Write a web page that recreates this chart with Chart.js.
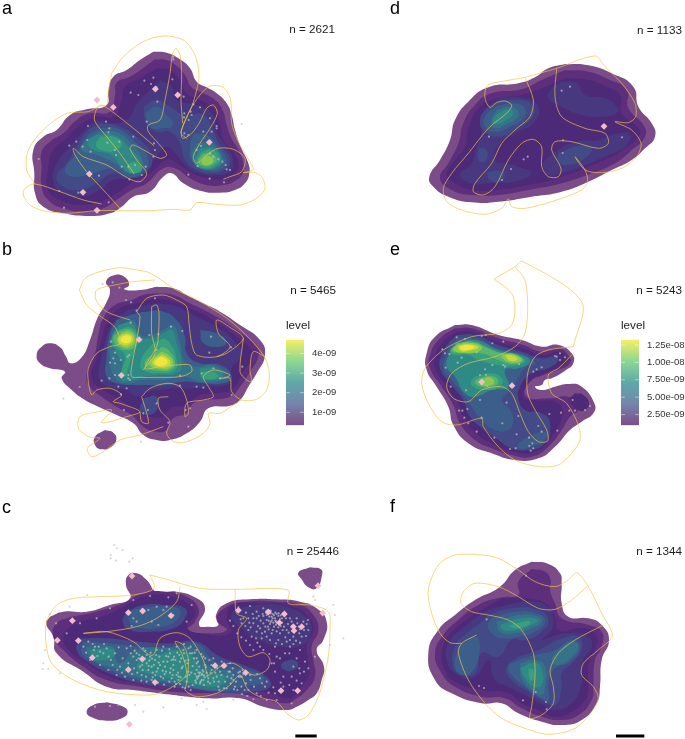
<!DOCTYPE html>
<html>
<head>
<meta charset="utf-8">
<script src="https://cdn.jsdelivr.net/npm/chart.js@4"></script>
<style>
  body { margin:0; background:#fff; width:685px; height:739px; position:relative; overflow:hidden;
         font-family:"Liberation Sans",Arial,sans-serif; color:#1a1a1a; }
  canvas { position:absolute; }
  .mapa { filter:blur(0.5px); }
  .txt { position:absolute; white-space:nowrap; line-height:1; }
  .letra { font-size:18px; color:#000; }
  .n { font-size:11.7px; }
</style>
</head>
<body>
<script>
// colores de cada nivel de densidad (de afuera hacia adentro)
const bandColors = ["#7b4c87","#5c2e7c","#4d2a78","#47387f","#424a87","#3c5e8b","#357388","#2f8a86","#38a07c","#5ab46c","#8ec850","#c6da40","#f2e63a"];

// Panel a: [nivel, contorno]
const aBands = [
 [0,[460,155,500,158,540,178,570,205,590,245,620,262,650,280,680,310,695,345,705,390,722,440,745,490,748,520,735,550,705,570,660,578,600,572,550,550,515,520,490,530,450,575,400,590,365,620,330,640,270,648,190,640,130,620,105,580,103,520,100,450,130,410,170,390,210,345,260,328,320,315,325,270,340,230,380,210,420,180]],
 [1,[465,178,500,180,530,198,555,225,575,262,610,280,645,300,668,330,680,375,692,410,715,450,730,490,730,515,710,540,670,555,620,555,570,535,525,505,490,505,440,550,395,570,350,600,310,625,260,635,190,625,145,600,125,560,125,500,125,455,150,425,190,400,230,360,270,340,330,335,345,285,350,248,390,230,435,200]],
 [2,[470,205,510,210,540,240,560,280,600,300,640,325,660,370,670,420,700,455,715,490,705,520,670,538,620,535,570,515,530,490,500,480,450,520,400,545,350,580,300,605,240,615,180,600,145,570,145,500,160,450,200,415,240,375,290,350,340,350,365,300,375,260,420,235]],
 [3,[480,240,515,260,530,300,590,315,640,345,650,395,680,440,700,485,690,515,650,525,600,520,560,500,530,465,500,440,470,470,440,510,390,535,340,540,300,570,240,590,190,580,160,545,170,490,210,440,250,395,290,365,350,370,390,350,410,310,440,280]],
 [4,[300,370,360,380,420,420,455,470,440,515,390,535,340,520,290,550,240,570,190,560,170,530,200,490,230,440,260,395]],
 [4,[430,320,470,300,510,320,555,345,610,345,640,395,660,435,690,475,680,505,640,520,590,510,555,480,540,430,510,395,470,395,440,370]],
 [5,[300,385,350,385,405,425,445,480,425,520,385,530,340,505,280,520,220,530,195,510,230,460,260,410]],
 [5,[435,340,470,320,500,345,520,375,490,385,450,380]],
 [5,[580,400,620,405,650,435,680,480,660,510,620,510,580,490,570,440]],
 [6,[300,395,345,395,390,425,430,485,420,515,385,520,345,490,290,465,245,450,255,425]],
 [6,[590,430,630,430,665,465,665,495,630,510,595,500,575,470]],
 [7,[290,405,340,405,385,440,425,500,395,520,365,500,335,465,280,450,265,425]],
 [7,[600,445,640,445,665,475,650,500,615,508,585,490]],
 [8,[300,410,340,410,365,430,350,450,310,452,288,435]],
 [8,[385,490,410,487,425,510,400,520,385,510]],
 [8,[605,455,635,450,660,475,645,497,615,505,590,488]],
 [9,[608,462,632,460,650,478,635,495,610,498,595,485]],
 [10,[612,470,628,468,640,482,625,495,605,490]]
];
const aOutlines = [
 [305,612,250,600,180,575,105,552,75,565,70,585,90,615,130,632,200,640,290,632,370,632,450,632,520,628,570,630,590,608,640,612,720,615,770,595,795,565,785,530,760,517,730,518,760,508,740,470,715,425,695,370,692,300,670,262,630,258,600,285,570,330,545,390,548,415,575,400,600,365,620,325,640,315,652,340,630,385,600,430,580,470,590,490,620,465,655,445,700,448,735,475,725,515,690,530,670,538],
 [548,370,543,300,545,220,540,165,528,145,518,160,510,220,495,300,480,360,445,375,445,395,475,430,500,465,480,475,440,455,400,435,390,445,410,480,440,520,420,545,385,535,320,495,250,470,220,445,225,465,260,515,310,570,360,625],
 [335,220,370,170,430,125,490,108,550,120,585,165,597,225,590,270,575,320,550,375,543,400,560,415],
 [335,220,325,275,320,315,300,318,265,335,200,340,130,390,85,450,80,510,105,552],
 [462,437,400,385,330,330,300,315,285,340,285,365,320,410,360,460,403,522]
];
const aCells = [433,242,460,233,453,252,517,238,392,278,415,285,470,262,551,290,472,305,440,365,580,313,600,322,572,335,553,340,552,352,575,345,630,355,650,378,650,385,635,395,610,395,566,360,553,400,565,405,725,372,116,477,264,378,318,365,328,385,325,397,262,420,229,425,248,440,208,437,272,455,322,428,358,425,400,410,462,430,465,450,345,450,348,465,365,500,385,500,405,495,437,500,425,525,388,538,297,527,235,578,326,607,192,623,178,573,603,438,590,450,630,460,640,470,655,478,667,485,677,495,680,508,593,498,565,524,629,536,672,547,690,510,520,170,520,178,460,470];
const aSpots = [291,300,340,322,466,267,533,285,628,427,268,522,249,577,291,631];

// Panel b
const bBands = [
 [0,[470,140,520,145,560,165,610,190,660,215,720,255,780,300,795,345,770,400,745,440,720,480,690,497,625,505,600,545,560,580,510,600,470,600,430,585,400,550,350,525,290,498,255,480,215,450,185,415,195,395,150,385,120,370,110,345,125,320,150,310,180,322,197,348,212,370,245,352,270,300,292,235,318,190,330,150,318,125,345,105,375,112,387,135,372,148,420,150]],
 [0,[315,570,340,578,349,598,335,620,305,628,285,615,285,590]],
 [1,[470,160,520,165,570,190,640,225,710,270,770,320,775,350,750,395,720,440,690,470,620,480,580,490,560,520,520,535,500,570,470,575,430,560,395,525,350,500,305,470,270,440,260,400,285,340,295,285,310,235,345,195,395,180,430,165]],
 [2,[470,175,520,185,570,205,640,240,710,290,755,330,755,355,730,395,700,445,650,460,600,465,560,495,510,505,490,530,450,530,410,515,360,480,310,450,275,415,290,355,305,300,320,250,360,205,410,190]],
 [3,[470,190,530,200,590,230,650,260,700,300,725,345,695,385,690,430,620,440,570,445,530,445,480,450,440,455,410,470,380,450,340,445,300,420,300,370,315,310,335,255,370,220,420,200]],
 [4,[430,475,470,470,470,510,440,525,420,510]],
 [5,[350,240,390,225,440,215,490,215,530,240,555,290,560,340,600,370,660,375,695,410,670,430,610,430,550,425,500,435,440,435,400,435,350,430,320,410,320,350,330,280]],
 [5,[600,270,650,280,680,305,660,320,610,310]],
 [6,[370,250,400,240,420,280,435,290,490,270,520,255,540,310,555,365,590,380,640,375,680,410,650,425,605,425,550,410,490,420,430,420,380,430,345,415,330,355,335,300]],
 [7,[355,255,395,250,420,290,450,295,490,280,515,270,530,310,545,375,530,400,480,405,430,410,395,420,365,420,375,385,350,340,335,295]],
 [7,[600,385,645,385,670,410,640,420,605,415]],
 [8,[358,268,392,262,415,295,410,320,395,350,385,385,375,410,365,395,375,345,345,320,335,295]],
 [8,[490,295,510,310,530,360,525,390,480,400,440,395,420,375,450,320]],
 [8,[610,395,640,395,655,410,625,418,605,408]],
 [9,[360,272,390,268,410,295,405,320,380,330,355,320,340,295]],
 [9,[485,320,505,330,525,365,515,388,480,393,445,385,435,365,465,340]],
 [10,[365,278,390,275,405,297,395,318,370,322,350,300]],
 [10,[485,335,505,345,520,367,510,385,480,387,452,378,450,362]],
 [11,[368,283,388,283,400,298,388,313,368,315,355,298]],
 [11,[485,345,500,352,512,368,502,380,480,382,458,372,462,358]],
 [12,[372,287,388,288,393,298,385,308,370,308,362,298]],
 [12,[483,350,495,355,503,367,495,376,478,378,465,368,470,357]]
];
const bOutlines = [
 [238,150,255,115,300,95,360,83,410,90,440,95,470,110,520,145,610,190,700,250,790,345,808,400,800,450,770,478,725,480,695,455,690,415,660,415],
 [238,150,260,195,300,228,345,262,360,310,330,320,290,340,265,385,265,425,275,465,290,450,330,445,365,465,340,485,360,490,420,515,380,530,305,548,335,510,295,515,240,530,235,565,270,592,300,595,262,625,275,650,310,635,360,600,420,585,490,560],
 [465,120,400,125,345,135,290,150,288,180,320,215,390,240],
 [410,215,440,175,490,165,530,180,560,200,567,250,575,310,590,345,650,350,690,320,655,280,650,240,690,262,730,295,680,340,650,350],
 [455,200,470,195,477,220,475,290,470,320,435,385,480,380,530,375,570,375,575,395,540,410,470,412,420,412,395,410,395,380,410,300,420,230,410,215],
 [455,200,455,280,465,340,430,390],
 [425,470,450,445,500,430,540,440,560,480,565,520,555,530,560,490,610,480,640,470,625,440,610,410,640,390,690,405,670,415],
 [425,470,440,520,445,550,425,545,420,515],
 [505,470,475,475,480,510,510,545,500,580,520,605,560,605,610,580,630,550,625,520,660,520,700,495,725,480],
 [795,350,760,335,750,390,755,425,740,420,720,395,730,295]
];
const bCells = [338,127,358,143,378,180,393,187,465,175,410,212,392,248,333,305,345,338,340,355,330,368,345,370,362,360,383,350,388,345,448,285,475,283,513,260,547,273,633,290,693,322,628,338,470,330,660,415,640,385,605,400,727,380,540,407,540,437,590,440,610,443,695,465,385,405,345,405,305,422,328,415,355,440,380,445,363,463,372,510,430,520,444,510,470,490,505,548,565,560,557,510,570,505,423,605,239,441,190,476,308,132,385,415,390,420];
const bSpots = [417,299,364,406];

// Panel c
const cBands = [
 [0,[150,380,190,365,260,365,330,345,390,325,378,285,385,255,410,250,440,270,470,305,530,305,590,325,615,355,597,405,625,410,655,405,648,375,680,340,750,328,830,328,900,335,950,355,980,395,970,450,950,480,972,530,965,570,950,610,925,630,890,650,860,660,790,650,720,625,620,625,520,615,400,600,320,590,250,545,170,490,160,440,138,400]],
 [0,[320,637,365,648,383,665,365,685,320,692,275,682,260,665,280,645]],
 [0,[930,232,963,238,965,260,950,295,925,292,905,268,895,248]],
 [1,[215,380,290,365,370,340,430,310,500,305,560,320,595,355,585,395,560,420,610,430,680,420,650,390,680,350,740,335,830,335,900,345,940,375,955,420,935,470,940,510,945,560,920,600,890,625,860,640,780,625,710,610,620,610,520,605,420,590,320,570,250,530,190,480,160,440,170,400]],
 [2,[240,395,320,375,380,345,440,318,510,318,570,345,585,375,560,410,600,430,690,430,680,380,700,345,780,340,880,350,930,385,940,420,920,470,925,520,925,560,895,600,870,625,810,610,720,595,620,600,530,590,420,580,330,560,260,520,205,480,190,440,205,415]],
 [4,[240,445,320,445,420,455,510,460,590,455,660,500,730,525,800,560,810,590,760,605,690,610,600,600,500,590,420,580,340,555,270,520,230,480]],
 [4,[380,365,430,345,500,345,555,355,555,385,520,415,450,425,390,420,368,395]],
 [3,[700,360,770,345,860,350,920,385,935,420,915,460,850,470,790,455,730,420,695,385]],
 [4,[850,515,880,510,895,525,875,542,850,538,843,525]],
 [5,[250,455,330,460,420,470,510,470,590,460,640,510,720,535,785,555,790,575,730,590,660,605,580,595,500,580,420,570,340,545,280,515,245,490]],
 [5,[395,360,440,352,510,350,540,360,530,390,490,410,430,415,390,400]],
 [6,[258,470,340,470,345,495,360,520,410,480,520,475,590,480,630,530,700,550,680,590,640,600,570,590,500,575,420,565,345,535,285,515,265,495]],
 [7,[420,510,490,490,530,480,580,500,610,545,670,555,670,580,630,590,570,580,510,565,440,550,410,535]],
 [7,[270,480,340,478,340,500,310,510,280,505]]
];
const cOutlines = [
 [450,255,462,295,400,315,300,320,220,325,170,345,140,395,138,460,155,520,220,570,320,605,450,615,500,600,545,570,560,550,545,490,525,455,550,465,565,510,560,580,555,600,590,620,650,610,690,585,720,555,745,600,790,625,830,635,860,670,895,690,925,675,955,620,970,570,985,500,990,420,985,365,930,345,865,340,865,300,705,298,600,295,500,268,450,255],
 [250,430,320,425,400,455,440,490,460,495,480,445,530,428,570,445,610,510,625,555,660,530,700,520,760,555,800,540,810,510,790,488,745,500,720,470,715,420,740,385,710,370,705,298],
 [250,430,320,425,410,410,470,385,530,335,540,290]
];
const cCells = [343,165,350,175,368,180,332,195,332,205,348,212,398,205,388,215,262,315,208,350,150,372,168,400,130,520,128,537,145,537,135,480,200,430,240,400,290,385,330,355,400,330,450,318,505,322,530,310,575,345,560,395,470,350,445,360,490,360,400,385,410,395,455,395,475,405,520,375,500,350,395,408,
 250,470,265,455,285,470,300,485,320,475,345,490,380,475,410,490,430,475,450,500,470,480,490,470,510,490,530,470,550,480,570,490,590,480,610,500,640,505,665,515,690,520,410,510,440,520,465,510,490,515,515,510,540,515,565,510,590,520,615,525,635,540,660,545,690,545,720,545,750,555,780,565,800,575,
 270,510,300,525,325,540,350,555,375,560,400,570,425,555,445,540,470,545,495,530,520,540,545,535,565,545,590,540,605,555,625,565,650,560,675,575,700,570,725,560,795,590,420,530,455,570,490,565,515,565,535,570,560,575,590,560,610,570,630,580,655,590,680,595,705,590,745,600,770,610,
 600,548,612,556,595,560,620,548,605,570,585,552,640,565,700,555,715,548,730,552,720,560,530,555,520,525,505,500,480,525,455,530,435,505,400,500,385,520,360,530,
 715,352,750,348,770,365,790,355,745,385,760,400,725,400,800,375,815,380,825,385,835,378,815,392,828,395,840,388,810,402,822,410,835,412,800,390,790,400,780,415,770,425,795,425,815,430,840,430,860,420,875,395,890,385,910,395,925,420,905,440,880,440,860,455,835,450,810,450,785,445,755,440,745,420,850,370,870,385,
 830,500,855,490,890,505,915,515,925,535,900,550,875,560,850,560,825,545,815,520,900,480,870,470,825,470,760,480,780,470,905,580,880,600,850,590,825,610,800,630,830,630,875,640,955,605,945,500,945,330,940,320,1000,345,1005,375,1030,445,990,465,
 330,648,355,645,285,650,405,645,430,665,490,652,590,645,620,657,545,625,610,635,700,630,180,550,
 258,488,278,462,292,498,312,462,333,510,356,472,368,505,392,490,402,535,418,495,428,540,438,560,452,488,462,525,478,500,482,560,498,545,508,478,522,500,528,582,538,495,548,530,552,462,558,560,572,470,578,528,582,505,586,572,598,530,604,492,612,585,618,532,628,510,632,548,642,575,652,535,658,600,668,530,682,560,692,580,698,535,708,575,712,600,728,540,738,580,752,570,762,590,772,552,786,580,
 812,370,818,372,822,376,808,380,830,372,826,392,832,398,818,385,806,392,798,368,842,376,846,398,852,410,858,385,864,402,842,408,806,418,796,410,782,392,776,378,758,372,738,368,730,385,752,412,768,445,800,440,828,460,846,462,866,428,882,420,896,410,912,420,920,402,898,430,880,462,900,458,
 440,495,448,512,458,548,468,495,474,535,486,482,494,552,502,515,512,535,518,555,526,510,534,548,544,505,552,490,562,520,568,555,576,490,590,505,596,548,602,575,608,540,616,505,624,575,634,525,646,548,656,575,664,555,672,595,686,545,694,565,702,598,716,560,724,590,734,600,
 606,552,598,556,592,566,614,562,622,558,610,545,588,578,600,580,578,585,566,590,548,592,536,560,524,575,
 392,468,404,482,416,505,426,525,436,482,446,528,456,506,466,556,476,518,488,542,498,498,510,548,520,508,532,488,542,562,556,512,566,475,574,548,584,488,594,515,
 282,480,296,470,310,490,326,500,338,525,352,540,366,548,382,540,396,552,412,548,424,572,440,575,458,562,474,578,492,584,508,575,524,590,540,582,556,594,572,600,
 812,362,826,368,836,370,800,362,788,372,770,385,760,385,748,398,736,408,722,388,790,378,804,410,786,430,774,408,818,420,830,424,848,420,856,442,870,450,888,452,900,418,918,438,924,390,892,400,876,408,846,385,838,404,828,404,820,398,812,396,
 690,392,700,408,712,430,724,442,738,452,750,465,772,458,790,480,808,492,822,520,840,505,868,490,880,530,898,535,912,545,890,572,868,585,842,578,820,592,806,608,782,618,760,628,742,618,726,612];
const cSpots = [396,258,217,392,172,451,235,452,385,368,428,363,513,377,277,503,427,507,385,539,465,577,645,527,672,527,737,548,715,361,805,366,853,372,838,398,880,410,882,422,905,410,968,369,843,602,893,602,954,287,388,703];
const cScaleBar = [886,738,950,738];

// Panel d
const dBands = [
 [0,[540,192,610,196,680,220,745,260,760,320,800,370,810,410,780,445,740,480,680,510,610,545,530,575,440,590,340,605,260,607,190,590,145,560,133,530,165,480,195,420,210,360,250,305,310,262,400,250,450,232,490,205]],
 [1,[540,210,610,215,670,238,725,270,730,325,775,375,780,410,740,450,690,490,620,520,530,550,430,570,340,585,260,585,200,570,165,535,190,490,220,430,235,370,270,315,320,280,410,268,470,240]],
 [2,[540,235,610,240,660,258,705,285,710,340,760,385,760,410,720,445,680,470,610,500,530,530,430,555,330,570,260,570,210,550,185,525,210,480,240,440,250,385,285,320,340,295,410,285,470,265]],
 [3,[530,245,575,250,600,285,660,295,695,320,695,340,650,350,590,345,520,315,490,295,500,265]],
 [3,[350,292,420,295,460,320,445,370,390,400,345,430,330,480,360,490,400,500,440,520,390,545,320,548,260,550,225,525,260,490,275,440,290,400,285,360,310,320]],
 [3,[470,490,520,450,570,425,640,420,700,400,735,405,720,440,670,465,600,495,530,520,490,525]],
 [4,[340,305,410,300,445,320,440,355,395,385,345,410,300,395,285,365,300,330]],
 [4,[280,445,300,445,308,470,295,487,278,475]],
 [4,[305,517,340,512,360,525,345,545,315,540]],
 [4,[520,460,580,438,620,445,600,475,550,495,520,485]],
 [5,[330,320,385,310,420,325,415,355,375,380,330,395,300,380,300,350]],
 [6,[335,330,375,320,400,335,395,355,360,375,330,385,318,365]],
 [7,[340,340,370,328,385,340,365,360,330,372,325,358]]
];
const dOutlines = [
 [515,205,630,168,660,200,710,250,750,310,752,350,730,368,690,365,740,390,768,430,755,470,710,505,650,518,600,510,570,470,600,510,608,545,590,570,500,605,420,625,380,620,370,597,350,625,300,643,230,630,185,605,175,565,200,520,250,460,310,385,370,335,380,315,360,303,335,308,315,322,300,295,305,258,330,248,420,232,515,205],
 [420,232,445,300,435,350,390,390,350,430,320,490,270,550,265,575,295,585,330,560,370,480,410,430,445,418,470,440,470,500,490,530,520,530,528,505,500,450,510,425,560,425,640,445,670,430,660,400,600,385,530,350,510,290,515,205]
];
const dCells = [530,272,555,260,312,410,534,421,533,459,416,478,428,470,378,507,351,540,711,412];
const dSpots = [657,379];

// Panel e
const eBands = [
 [0,[210,255,260,255,340,285,410,300,470,320,520,315,560,340,565,370,540,392,500,415,480,420,470,435,450,440,470,450,510,440,550,432,590,440,628,490,625,520,590,545,555,570,510,620,460,655,390,660,320,640,250,610,205,555,190,500,155,440,125,390,125,340,150,290]],
 [1,[210,265,260,265,340,295,415,315,470,335,520,325,550,345,555,370,520,390,475,405,430,430,425,470,490,475,550,470,570,490,580,510,555,530,530,570,490,620,440,650,380,645,320,625,270,600,225,550,205,495,170,440,135,385,135,345,165,295]],
 [2,[570,460,595,465,612,490,600,510,580,510,555,480]],
 [2,[215,275,260,275,335,305,415,325,470,345,525,335,545,355,540,370,490,395,440,420,415,470,445,480,520,490,530,530,500,590,450,635,385,635,320,610,280,585,240,540,220,490,185,440,150,385,150,350,175,305]],
 [4,[215,285,270,285,340,315,410,335,470,355,505,350,520,360,490,385,440,400,405,440,400,475,420,510,470,520,495,550,480,610,430,630,380,625,340,600,300,570,255,530,235,480,195,430,165,385,170,345,190,310]],
 [5,[220,295,270,295,340,325,420,345,450,370,420,385,395,420,370,455,350,480,375,510,385,540,370,570,330,570,290,540,260,500,240,470,200,420,175,385,185,340,195,320]],
 [5,[400,610,430,590,480,575,480,600,440,620,400,625]],
 [7,[220,305,275,300,340,330,410,345,435,365,400,385,360,390,370,440,320,450,270,470,240,460,210,410,185,380,195,340]],
 [8,[215,310,270,308,340,335,400,345,420,365,385,378,340,375,280,360,250,345,215,345,195,335]],
 [8,[270,410,320,400,350,415,345,440,300,450,265,440,258,425]],
 [9,[215,310,265,305,310,325,350,340,390,345,415,362,380,372,340,360,290,340,235,340,200,332]],
 [9,[280,415,320,408,340,425,320,440,290,440,270,428]],
 [10,[215,315,250,308,290,320,280,335,230,338,205,330]],
 [10,[355,342,385,342,410,360,380,368,350,352]],
 [10,[285,420,315,412,328,428,305,437,285,432]],
 [11,[218,318,250,312,280,322,250,333,225,332]],
 [11,[360,345,385,347,398,358,375,362]],
 [12,[225,318,250,315,268,322,245,330,228,328]]
];
const eOutlines = [
 [328,117,390,80,412,64,590,185,565,320],
 [328,117,380,160,390,205,380,255,340,280,260,290,175,330,120,385,110,430,130,490,170,545,215,555,290,535,295,560,340,620,390,660,460,680,520,675,560,640,585,600,580,555,545,490,500,460,490,405,520,385,565,340],
 [390,80,420,120,428,200,420,280,390,320,330,350,250,370,200,400,185,440,205,475,250,485,290,450,350,440,380,460,405,520,430,575,460,605,488,603,485,570,450,510,428,460,428,400,450,350,490,330,565,320]
];
const eCells = [215,292,240,297,290,288,302,285,322,310,355,305,172,328,180,340,193,342,230,353,275,337,218,368,182,383,300,388,322,375,355,375,360,380,402,372,445,395,455,388,470,382,510,348,515,350,525,340,525,360,540,352,285,405,303,405,197,440,243,451,285,480,307,438,365,488,222,512,232,512,247,507,238,533,250,550,275,575,290,533,352,550,328,593,395,583,400,528,460,558,432,593,470,575,442,610,433,618,445,625,437,632,375,627,392,625,493,522,517,572,528,518,553,512,563,480,570,512,600,510,615,498];
const eSpots = [290,426,381,437];

// Panel f
const fBands = [
 [0,[440,215,490,222,525,250,530,280,530,340,550,380,610,385,650,405,672,450,650,510,645,590,635,640,590,690,530,705,470,695,400,670,350,640,290,640,200,610,150,570,130,490,160,420,210,375,270,330,345,290,390,240]],
 [1,[440,237,480,245,497,270,495,300,510,340,530,385,610,405,650,425,650,470,630,510,625,590,620,630,580,675,530,690,470,680,410,655,360,625,290,620,210,590,170,550,150,490,175,435,220,390,280,345,350,322,400,315,400,275]],
 [2,[350,325,420,325,480,340,510,380,520,420,600,415,635,440,630,480,610,520,610,590,600,630,560,665,510,680,460,660,410,640,370,610,290,600,210,575,180,540,170,490,190,440,230,400,290,360]],
 [3,[365,345,430,335,490,350,505,385,500,420,470,450,540,430,610,440,620,470,590,520,590,580,560,640,510,660,465,640,410,610,370,590,330,570,310,510,270,560,220,555,185,510,195,450,240,410,300,365]],
 [4,[310,375,380,355,460,360,490,390,470,425,420,450,380,450,340,500,290,490,270,550,230,555,205,530,210,470,245,430,290,395]],
 [4,[400,500,460,480,520,450,580,440,590,480,560,520,530,550,530,590,510,645,470,630,430,605,380,570,365,530]],
 [5,[320,385,390,365,460,372,480,395,450,425,400,440,350,445,320,430,308,405]],
 [5,[220,470,270,440,285,470,265,540,235,555,210,530]],
 [5,[400,510,450,495,510,480,560,450,585,470,555,515,510,535,490,580,490,630,460,620,420,590,385,560,370,530]],
 [6,[335,395,400,375,460,380,470,395,440,415,390,430,345,425]],
 [6,[520,480,560,455,580,470,550,510,515,525,500,510]],
 [6,[405,520,450,510,480,530,480,590,470,615,440,600,410,565]],
 [7,[345,405,410,385,460,390,440,405,395,420,355,420]],
 [7,[405,535,450,518,470,540,470,585,445,590,420,565]],
 [8,[370,408,430,393,435,402,395,415]],
 [8,[430,535,445,540,445,570,435,570]]
];
const fOutlines = [
 [275,435,230,460,220,490,250,570,300,640,350,685,420,715,490,733,570,715,620,665,640,625,625,590,590,555,595,520,640,480,682,437,650,370,610,290,575,248,550,270,510,290,450,275,400,240,340,205,290,195,210,195,160,225,130,300,140,370,165,430,195,458,230,460],
 [605,290,560,330,510,358,460,355,400,320,340,290,270,280,235,305,228,340,260,365,310,375,370,390,410,420,445,490,450,560,440,650,435,685,470,675,505,640,505,590,495,540,520,490,570,450,655,405]
];
const fCells = [305,388,423,257,282,588,297,594,452,606,414,631,483,636,485,658];
const fSpots = [];
const fScaleBar = [693,738,778,738];

// Leyendas
const bLegendTicks = [1e-9,2e-9,3e-9,4e-9];
const bLegendLabels = ["1e-09","2e-09","3e-09","4e-09"];
const bLegendRange = [0.34e-9,4.7e-9];
const eLegendTicks = [2.5e-9,5e-9,7.5e-9,1e-8,1.25e-8];
const eLegendLabels = ["2.50e-09","5.00e-09","7.50e-09","1.00e-08","1.25e-08"];
const eLegendRange = [0.96e-9,1.325e-8];
const viridisStops = ["#7c4d87","#7585ad","#5fa8ab","#8dd892","#f7ee66"];

function pares(lista){
    const salida = [];
    for(let i = 0; i < lista.length; i += 2){
        salida.push({x: lista[i], y: lista[i+1]});
    }
    return salida;
}

function crearCanvas(left, top, w, h, clase){
    const c = document.createElement("canvas");
    c.width = w;
    c.height = h;
    c.style.left = left + "px";
    c.style.top = top + "px";
    c.style.width = w + "px";
    c.style.height = h + "px";
    if(clase) c.className = clase;
    document.body.appendChild(c);
    return c;
}

function texto(str, left, top, clase, right){
    const d = document.createElement("div");
    d.className = "txt " + clase;
    d.textContent = str;
    d.style.top = top + "px";
    if(right !== undefined){ d.style.right = (685 - right) + "px"; } else { d.style.left = left + "px"; }
    document.body.appendChild(d);
}

function panel(left, top, w, h, bandas, contornos, celulas, manchas, barra){
    // el orden de pintura va de la banda exterior a los puntos
    const ds = [];
    bandas.forEach(([nivel, lista]) => {
        const p = pares(lista);
        p.push(p[0]);
        ds.push({data: p, showLine: true, fill: "shape", backgroundColor: bandColors[nivel], borderWidth: 0, pointRadius: 0, tension: 0.5});
    });
    contornos.forEach((lista) => {
        ds.push({data: pares(lista), showLine: true, fill: false, borderColor: "rgba(246,195,70,0.68)", borderWidth: 1, pointRadius: 0, tension: 0.3});
    });
    ds.push({data: pares(celulas), showLine: false, pointRadius: 1.1, pointBorderWidth: 0, pointBackgroundColor: "rgba(196,196,196,0.7)"});
    ds.push({data: pares(manchas), showLine: false, pointStyle: "rectRot", pointRadius: 3.4, pointBorderWidth: 0, pointBackgroundColor: "#f3bccb"});
    if(barra){
        ds.push({data: pares(barra), showLine: true, fill: false, borderColor: "#000", borderWidth: 3, pointRadius: 0});
    }
    new Chart(crearCanvas(left, top, w, h, "mapa").getContext("2d"), {
        type: "scatter",
        data: {datasets: ds.reverse()},
        options: {
            responsive: false,
            animation: false,
            layout: {padding: 0, autoPadding: false},
            plugins: {legend: {display: false}, tooltip: {enabled: false}},
            scales: {
                x: {type: "linear", display: false, min: 0, max: w * 3},
                y: {type: "linear", display: false, min: 0, max: h * 3, reverse: true}
            }
        }
    });
}

function leyenda(left, top, w, rango, ticks, etiquetas){
    const marcas = {
        id: "marcas",
        afterDatasetsDraw(chart){
            const {ctx, chartArea, scales} = chart;
            ctx.save();
            ctx.strokeStyle = "rgba(255,255,255,0.75)";
            ctx.lineWidth = 0.6;
            ticks.forEach((v) => {
                const y = scales.y.getPixelForValue(v);
                ctx.beginPath();
                ctx.moveTo(chartArea.left, y); ctx.lineTo(chartArea.left + 4, y);
                ctx.moveTo(chartArea.right - 4, y); ctx.lineTo(chartArea.right, y);
                ctx.stroke();
            });
            ctx.restore();
        }
    };
    new Chart(crearCanvas(left, top - 10, w, 113).getContext("2d"), {
        type: "bar",
        data: {
            labels: ["level"],
            datasets: [{
                data: [rango],
                barPercentage: 1,
                categoryPercentage: 1,
                backgroundColor(c){
                    const area = c.chart.chartArea;
                    if(!area) return viridisStops[0];
                    const g = c.chart.ctx.createLinearGradient(0, area.bottom, 0, area.top);
                    viridisStops.forEach((col, i) => g.addColorStop(i / (viridisStops.length - 1), col));
                    return g;
                }
            }]
        },
        options: {
            responsive: false,
            animation: false,
            layout: {padding: {top: 10, bottom: 10, left: 0, right: 0}, autoPadding: false},
            plugins: {legend: {display: false}, tooltip: {enabled: false}},
            scales: {
                x: {display: false},
                y: {
                    position: "right",
                    min: rango[0],
                    max: rango[1],
                    grid: {display: false, drawTicks: false},
                    border: {display: false},
                    afterBuildTicks(axis){ axis.ticks = ticks.map((v) => ({value: v})); },
                    afterFit(axis){ axis.width = w - 18; },
                    ticks: {
                        padding: 8,
                        color: "#333",
                        font: {family: "Liberation Sans", size: 9.5},
                        callback(v){ return etiquetas[ticks.indexOf(v)]; }
                    }
                }
            }
        },
        plugins: [marcas]
    });
}

panel(0, 0, 345, 240, aBands, aOutlines, aCells, aSpots);
panel(0, 240, 345, 240, bBands, bOutlines, bCells, bSpots);
panel(0, 490, 345, 249, cBands, cOutlines, cCells, cSpots, cScaleBar);
panel(385, 0, 300, 240, dBands, dOutlines, dCells, dSpots);
panel(385, 240, 300, 240, eBands, eOutlines, eCells, eSpots);
panel(385, 490, 300, 249, fBands, fOutlines, fCells, fSpots, fScaleBar);

leyenda(286, 336, 56, bLegendRange, bLegendTicks, bLegendLabels);
leyenda(621, 336, 64, eLegendRange, eLegendTicks, eLegendLabels);

texto("a", 2, -1, "letra");
texto("b", 2, 240, "letra");
texto("c", 2, 498, "letra");
texto("d", 390, -1, "letra");
texto("e", 390, 240, "letra");
texto("f", 390, 497, "letra");
texto("n = 2621", 0, 23, "n", 335);
texto("n = 5465", 0, 284, "n", 336);
texto("n = 25446", 0, 545, "n", 339);
texto("n = 1133", 0, 24, "n", 682);
texto("n = 5243", 0, 284, "n", 682);
texto("n = 1344", 0, 545, "n", 682);
texto("level", 286, 319, "n");
texto("level", 621, 319, "n");
</script>
</body>
</html>
